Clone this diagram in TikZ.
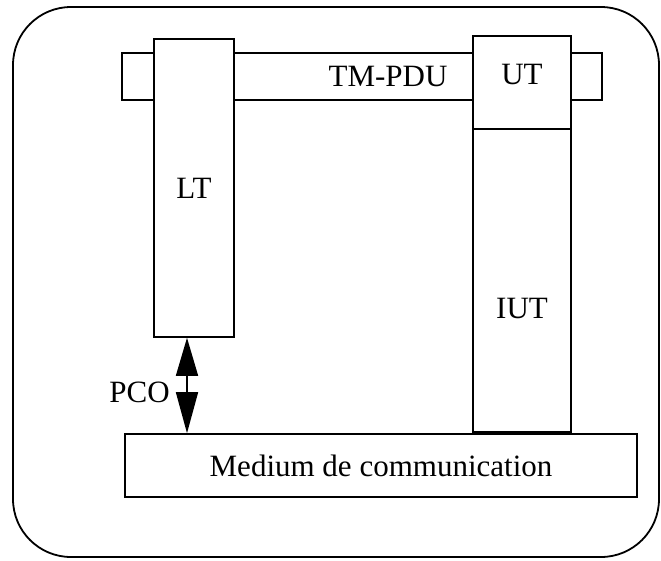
\documentclass[tikz,border=0pt]{standalone}
\usepackage{fontspec}
\setmainfont{Liberation Serif}
\usetikzlibrary{arrows.meta}
\begin{document}
\begin{tikzpicture}[x=1pt,y=-1pt,
  box/.style={draw,line width=1.6pt,fill=white,rectangle,inner sep=0pt},
  lbl/.style={inner sep=0pt,font=\fontsize{31}{36}\selectfont}]
\useasboundingbox (0,0) rectangle (661,560);
\fill[white] (0,0) rectangle (661,560);
\draw[line width=1.8pt,rounded corners=58pt] (13,7) rectangle (659,557);
% TM-PDU bar
\node[box,minimum width=480pt,minimum height=47pt] (bar) at (362,76.5) {};
% LT
\node[box,minimum width=80pt,minimum height=298pt,font=\fontsize{31}{36}\selectfont] (LT) at (194,188) {LT};
% UT and IUT
\node[box,minimum width=98pt,minimum height=93pt] (UT) at (522,82.5) {};
\node[box,minimum width=98pt,minimum height=303pt] (IUT) at (522,280.5) {};
% Medium
\node[box,minimum width=512pt,minimum height=63pt,font=\fontsize{31}{36}\selectfont] (Med) at (381,465.5) {Medium de communication};
% labels
\node[lbl] (tmpdu) at (388,76) {TM-PDU};
\node[lbl] (utl) at (522,74) {UT};
\node[lbl] (iutl) at (522,308) {IUT};
\node[lbl,anchor=east] (pco) at (170,392) {PCO};
% arrow
\coordinate (pa) at (187,400);
\draw[line width=1.6pt,{Triangle[width=22pt,length=38pt]}-{Triangle[width=22pt,length=41pt]}] (LT.south -| pa) -- (Med.north -| pa);
\end{tikzpicture}
\end{document}
